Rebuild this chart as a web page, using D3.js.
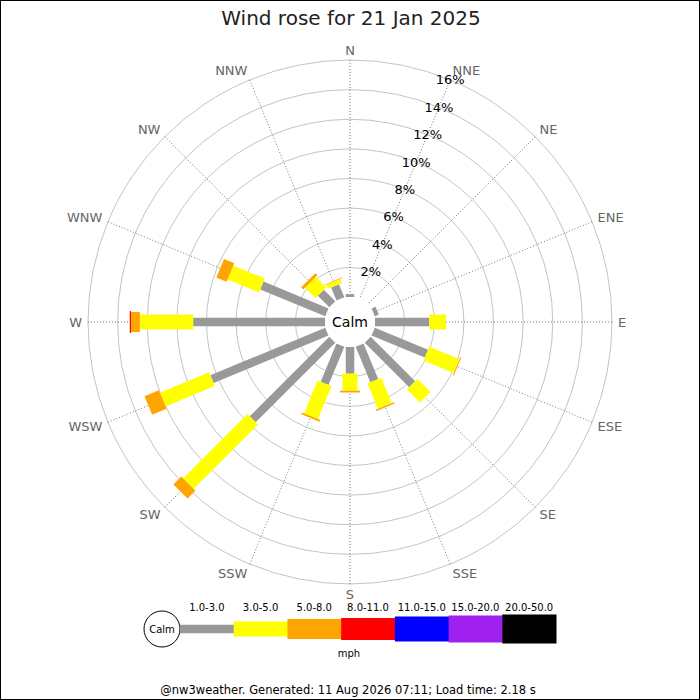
<!DOCTYPE html>
<html>
<head>
<meta charset="utf-8">
<script src="https://cdn.jsdelivr.net/npm/d3@7"></script>
<style>
  body { margin:0; background:#fff; }
  svg { display:block; font-family:"DejaVu Sans", sans-serif; }
</style>
</head>
<body>
<svg id="chart" width="700" height="700"></svg>
<script>
// wind rose, 16 compass points, % of time per speed band (mph)
const directions = ['N','NNE','NE','ENE','E','ESE','SE','SSE','S','SSW','SW','WSW','W','WNW','NW','NNW'];
const bands = ['1.0-3.0','3.0-5.0','5.0-8.0','8.0-11.0','11.0-15.0','15.0-20.0','20.0-50.0'];
const bandColors = ['#999999','#ffff00','#ffa500','#ff0000','#0000ff','#a020f0','#000000'];
const band1 = [0.2,0,0,0.3,3.67,3.9,4.25,2.6,1.8,2.8,7.6,8.4,8.9,4.75,1.1,0.95];
const band2 = [0,0,0,0,1.13,2.2,1.25,1.85,1.15,2.4,6.15,3.6,3.6,2.3,1.0,0.3];
const band3 = [0,0,0,0,0,0.07,0,0.1,0.12,0.12,0.75,1.05,0.6,0.75,0.2,0.05];
const band4 = [0,0,0,0,0,0,0,0,0,0,0,0,0.08,0,0,0];
const band5 = new Array(16).fill(0);
const band6 = new Array(16).fill(0);
const band7 = new Array(16).fill(0);
const pctTicks = [2,4,6,8,10,12,14,16];

const svg = d3.select('#chart');
const W = 700, cx = 350, cy = 322, calmR = 25, outerR = 262;
const series = [band1,band2,band3,band4,band5,band6,band7];
const bandWidth = [8.5,15,20,22,25,27,29];

const r = d3.scaleLinear().domain([0,16]).range([calmR, outerR]);
const ang = d3.scaleLinear().domain([0,16]).range([0,360]);
const rad = a => a*Math.PI/180;

svg.append('rect').attr('x',0.5).attr('y',0.5).attr('width',W-1).attr('height',W-1)
  .attr('fill','#fff').attr('stroke','#000');

svg.append('text').attr('x',351).attr('y',25).attr('text-anchor','middle')
  .attr('font-size',20).attr('fill','#222').text('Wind rose for 21 Jan 2025');

const g = svg.append('g');

// rings
g.selectAll('circle.ring').data(pctTicks).enter().append('circle')
  .attr('cx',cx).attr('cy',cy).attr('r',d=>r(d))
  .attr('fill','none').attr('stroke','#b4b4b4').attr('stroke-width',0.8);

// spokes
g.selectAll('line.spoke').data(directions).enter().append('line')
  .attr('x1',cx).attr('y1',cy)
  .attr('x2',(d,i)=>cx+outerR*Math.sin(rad(ang(i))))
  .attr('y2',(d,i)=>cy-outerR*Math.cos(rad(ang(i))))
  .attr('stroke','#555').attr('stroke-width',0.8).attr('stroke-dasharray','1,2');

// direction labels
g.selectAll('text.dir').data(directions).enter().append('text')
  .attr('x',(d,i)=>cx+268*Math.sin(rad(ang(i))))
  .attr('y',(d,i)=>cy-272*Math.cos(rad(ang(i))))
  .attr('dy','0.35em')
  .attr('text-anchor',(d,i)=>{ const s=Math.sin(rad(ang(i))); return s>0.1?'start':(s<-0.1?'end':'middle'); })
  .attr('font-size',13).attr('fill','#666').text(d=>d);

// bars
directions.forEach((d,i)=>{
  const bar = g.append('g').attr('transform',`translate(${cx},${cy}) rotate(${ang(i)})`);
  let cum = 0;
  series.forEach((s,k)=>{
    const v = s[i];
    if(!v) return;
    const r0 = r(cum), r1 = r(cum+v);
    bar.append('rect').attr('x',-bandWidth[k]/2).attr('y',-r1)
      .attr('width',bandWidth[k]).attr('height',r1-r0).attr('fill',bandColors[k]);
    cum += v;
  });
});

// calm centre
g.append('circle').attr('cx',cx).attr('cy',cy).attr('r',calmR).attr('fill','#fff');
g.append('text').attr('x',cx).attr('y',cy).attr('dy','0.35em').attr('text-anchor','middle')
  .attr('font-size',14).attr('fill','#000').text('Calm');

// percent labels along NNE
const a1 = rad(ang(1));
g.selectAll('text.pct').data(pctTicks).enter().append('text')
  .attr('x',d=>cx+r(d)*Math.sin(a1)).attr('y',d=>cy-r(d)*Math.cos(a1))
  .attr('dy','0.35em').attr('text-anchor','middle')
  .attr('font-size',13).attr('fill','#000').text(d=>d+'%');

// legend
const leg = svg.append('g');
const lx = d3.scaleBand().domain(bands).range([180,556]).padding(0);
const ly = 629;
leg.append('circle').attr('cx',162).attr('cy',ly).attr('r',18)
  .attr('fill','#fff').attr('stroke','#000');
leg.append('text').attr('x',162).attr('y',ly).attr('dy','0.35em').attr('text-anchor','middle')
  .attr('font-size',10).text('Calm');
leg.selectAll('rect.key').data(bands).enter().append('rect')
  .attr('x',d=>lx(d)).attr('width',lx.bandwidth()+0.5)
  .attr('y',(d,i)=>ly-bandWidth[i]/2).attr('height',(d,i)=>bandWidth[i])
  .attr('fill',(d,i)=>bandColors[i]);
leg.selectAll('text.key').data(bands).enter().append('text')
  .attr('x',d=>lx(d)+lx.bandwidth()/2).attr('y',611).attr('text-anchor','middle')
  .attr('font-size',10).attr('fill','#000').text(d=>d);
leg.append('text').attr('x',349).attr('y',657).attr('text-anchor','middle')
  .attr('font-size',10).text('mph');

svg.append('text').attr('x',348).attr('y',694).attr('text-anchor','middle')
  .attr('font-size',11.5).attr('fill','#000')
  .text('@nw3weather. Generated: 11 Aug 2026 07:11; Load time: 2.18 s');
</script>
</body>
</html>
